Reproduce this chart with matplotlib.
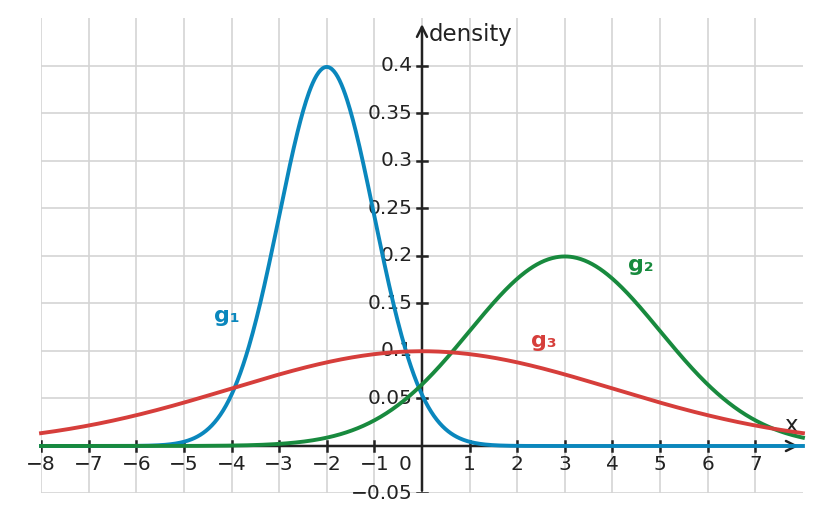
import numpy as np
import matplotlib.pyplot as plt

# normal densities (mean, sd)
names = ['g₁', 'g₂', 'g₃']
means = [-2, 3, 0]
sds = [1, 2, 4]
colors = ['#0a87bd', '#188a3e', '#d63e3b']
label_pos = [(-4.1, 0.137), (4.6, 0.19), (2.55, 0.111)]

x_ticks = [-8, -7, -6, -5, -4, -3, -2, -1, 1, 2, 3, 4, 5, 6, 7]
y_ticks = [-0.05, 0.05, 0.1, 0.15, 0.2, 0.25, 0.3, 0.35, 0.4]
y_tick_labels = ['−0.05', '0.05', '0.1', '0.15', '0.2', '0.25', '0.3', '0.35', '0.4']

fig = plt.figure(figsize=(8.21, 5.22), dpi=100)
ax = fig.add_axes([0.05, 0.0546, 0.928, 0.911])
ax.set_xlim(-8, 8)
ax.set_ylim(-0.05, 0.4505)

# grid
for gx in range(-8, 8):
    ax.axvline(gx, color='#d4d4d4', lw=1.2, zorder=0)
for gy in np.arange(-0.05, 0.45, 0.05):
    ax.axhline(gy, color='#d4d4d4', lw=1.2, zorder=0)

for s in ax.spines.values():
    s.set_visible(False)
ax.set_xticks([])
ax.set_yticks([])

axc = '#222222'
ax.annotate('', xy=(7.97, 0), xytext=(-8, 0),
            arrowprops=dict(arrowstyle='->', color=axc, lw=1.8, mutation_scale=18), zorder=2)
ax.annotate('', xy=(0, 0.447), xytext=(0, -0.05),
            arrowprops=dict(arrowstyle='->', color=axc, lw=1.8, mutation_scale=18), zorder=2)

# ticks
for tx in x_ticks:
    ax.plot([tx, tx], [-0.005, 0.005], color=axc, lw=1.8, zorder=2)
    lab = str(tx).replace('-', '−')
    ax.text(tx, -0.009, lab, ha='center', va='top', fontsize=14.5, color=axc)
ax.text(-0.35, -0.009, '0', ha='center', va='top', fontsize=14.5, color=axc)
for ty, lab in zip(y_ticks, y_tick_labels):
    ax.plot([-0.1, 0.1], [ty, ty], color=axc, lw=1.8, zorder=2)
    ax.text(-0.2, ty, lab, ha='right', va='center', fontsize=14.5, color=axc)

ax.text(0.15, 0.433, 'density', ha='left', va='center', fontsize=16.5, color=axc)
ax.text(7.75, 0.0215, 'x', ha='center', va='center', fontsize=16.5, color=axc)

xs = np.linspace(-8, 8, 800)
for m, sd, c, nm, (lx, ly) in zip(means, sds, colors, names, label_pos):
    ys = np.exp(-0.5 * ((xs - m) / sd) ** 2) / (sd * np.sqrt(2 * np.pi))
    ax.plot(xs, ys, color=c, lw=2.8, zorder=3, clip_on=False)
    ax.text(lx, ly, nm, color=c, fontsize=16, fontweight='bold', ha='center', va='center')

fig.savefig('out.png', dpi=100)
